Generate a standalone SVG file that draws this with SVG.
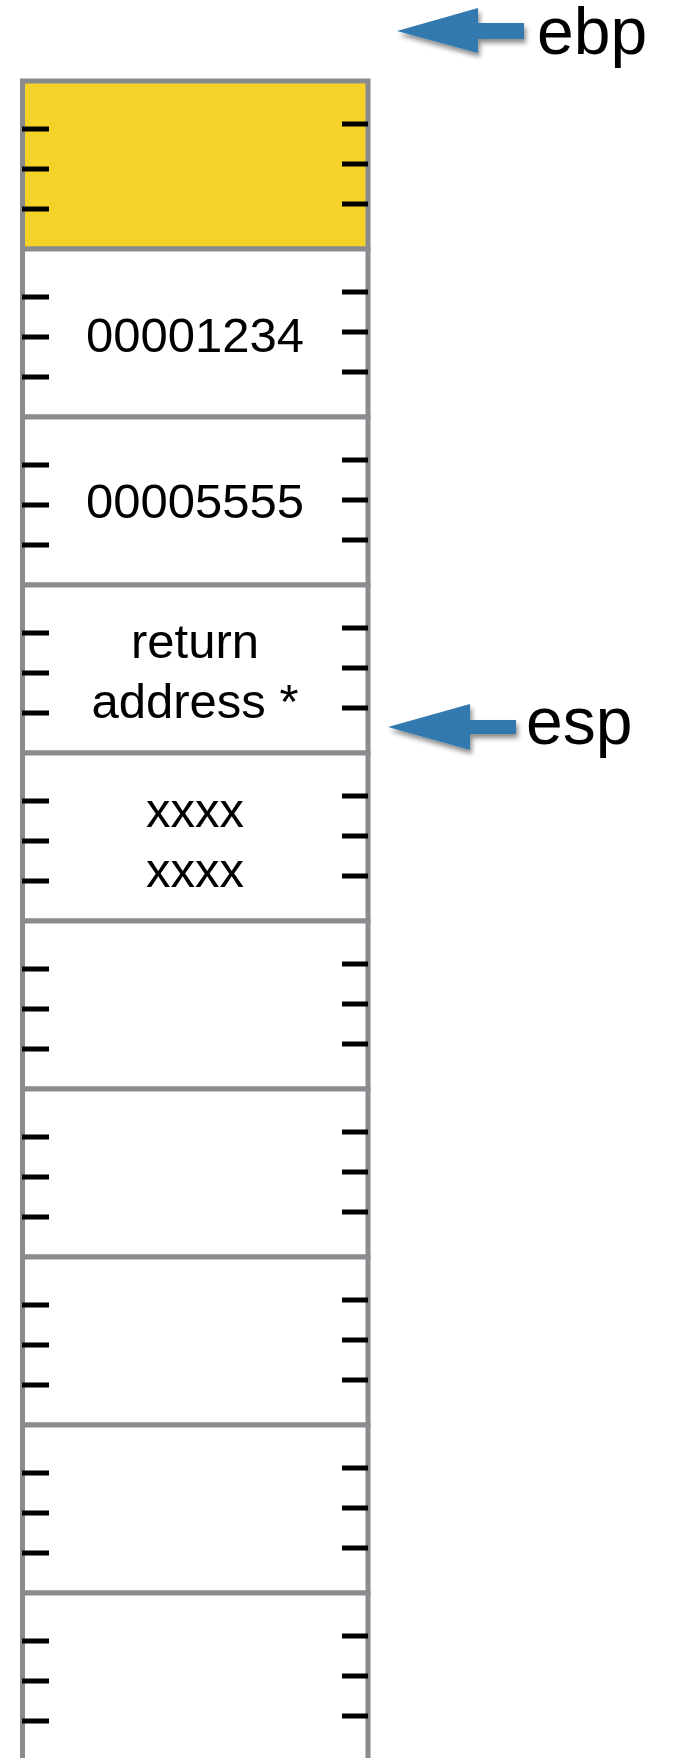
<svg xmlns="http://www.w3.org/2000/svg" width="678" height="1758" viewBox="0 0 678 1758">
<defs>
<style>
.cell{fill:#ffffff;stroke:#898b8f;stroke-width:5}
.top{fill:#f5d227}
.tk{fill:#000000}
.lbl{font-family:"Liberation Sans",Arial,sans-serif;font-size:49px;fill:#000000;text-anchor:middle}
.reg{font-family:"Liberation Sans",Arial,sans-serif;font-size:66px;fill:#000000}
.arrow{fill:#3079b0;filter:url(#sh)}
</style>
<filter id="sh" x="-20%" y="-40%" width="140%" height="190%">
<feDropShadow dx="2" dy="4" stdDeviation="2.5" flood-color="#000000" flood-opacity="0.45"/>
</filter>
<g id="tl"><rect class="tk" x="22" y="-2.5" width="27" height="5"/></g>
<g id="tr"><rect class="tk" x="342" y="-2.5" width="26" height="5"/></g>
</defs>
<g id="cell0"><rect class="cell top" x="22.5" y="81" width="345.5" height="168"/>
<use href="#tl" y="129"/><use href="#tl" y="169"/><use href="#tl" y="209"/>
<use href="#tr" y="124"/><use href="#tr" y="164"/><use href="#tr" y="204"/></g>
<g id="cell1"><rect class="cell" x="22.5" y="249" width="345.5" height="168"/>
<use href="#tl" y="297"/><use href="#tl" y="337"/><use href="#tl" y="377"/>
<use href="#tr" y="292"/><use href="#tr" y="332"/><use href="#tr" y="372"/>
<text class="lbl" x="195" y="352">00001234</text></g>
<g id="cell2"><rect class="cell" x="22.5" y="417" width="345.5" height="168"/>
<use href="#tl" y="465"/><use href="#tl" y="505"/><use href="#tl" y="545"/>
<use href="#tr" y="460"/><use href="#tr" y="500"/><use href="#tr" y="540"/>
<text class="lbl" x="195" y="518">00005555</text></g>
<g id="cell3"><rect class="cell" x="22.5" y="585" width="345.5" height="168"/>
<use href="#tl" y="633"/><use href="#tl" y="673"/><use href="#tl" y="713"/>
<use href="#tr" y="628"/><use href="#tr" y="668"/><use href="#tr" y="708"/>
<text class="lbl" x="195" y="658">return</text>
<text class="lbl" x="195" y="718">address *</text></g>
<g id="cell4"><rect class="cell" x="22.5" y="753" width="345.5" height="168"/>
<use href="#tl" y="801"/><use href="#tl" y="841"/><use href="#tl" y="881"/>
<use href="#tr" y="796"/><use href="#tr" y="836"/><use href="#tr" y="876"/>
<text class="lbl" x="195" y="827">xxxx</text>
<text class="lbl" x="195" y="887">xxxx</text></g>
<g id="cell5"><rect class="cell" x="22.5" y="921" width="345.5" height="168"/>
<use href="#tl" y="969"/><use href="#tl" y="1009"/><use href="#tl" y="1049"/>
<use href="#tr" y="964"/><use href="#tr" y="1004"/><use href="#tr" y="1044"/></g>
<g id="cell6"><rect class="cell" x="22.5" y="1089" width="345.5" height="168"/>
<use href="#tl" y="1137"/><use href="#tl" y="1177"/><use href="#tl" y="1217"/>
<use href="#tr" y="1132"/><use href="#tr" y="1172"/><use href="#tr" y="1212"/></g>
<g id="cell7"><rect class="cell" x="22.5" y="1257" width="345.5" height="168"/>
<use href="#tl" y="1305"/><use href="#tl" y="1345"/><use href="#tl" y="1385"/>
<use href="#tr" y="1300"/><use href="#tr" y="1340"/><use href="#tr" y="1380"/></g>
<g id="cell8"><rect class="cell" x="22.5" y="1425" width="345.5" height="168"/>
<use href="#tl" y="1473"/><use href="#tl" y="1513"/><use href="#tl" y="1553"/>
<use href="#tr" y="1468"/><use href="#tr" y="1508"/><use href="#tr" y="1548"/></g>
<g id="cell9"><rect class="cell" x="22.5" y="1593" width="345.5" height="180"/>
<use href="#tl" y="1641"/><use href="#tl" y="1681"/><use href="#tl" y="1721"/>
<use href="#tr" y="1636"/><use href="#tr" y="1676"/><use href="#tr" y="1716"/></g>
<g id="ebp"><text class="reg" x="537" y="54">ebp</text></g>
<g id="esp"><text class="reg" x="526" y="744">esp</text></g>
<g id="connectors">
<polygon class="arrow" points="397,31 478,8 478,23 524,23 524,39 478,39 478,53"/>
<polygon class="arrow" points="388,727 470,704 470,720 516,720 516,734 470,734 470,750"/>
</g>
</svg>
